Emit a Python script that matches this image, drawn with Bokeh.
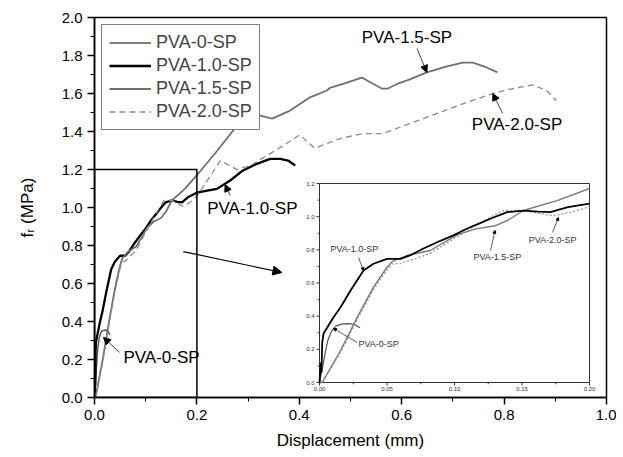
import numpy as np
from bokeh.plotting import figure
from bokeh.models import (Range1d, SingleIntervalTicker, PrintfTickFormatter, Legend,
                          LegendItem, Arrow, NormalHead)
from bokeh.core.properties import value
from bokeh.embed import file_html
from bokeh.resources import INLINE

FONT = "Liberation Sans"

# ---------------- data ----------------
x_pva0 = [0.0, 0.002, 0.004, 0.006, 0.009, 0.012, 0.016, 0.021, 0.026, 0.03]
y_pva0 = [0.0, 0.08, 0.17, 0.25, 0.31, 0.34, 0.352, 0.355, 0.35, 0.33]

x_pva10 = [0.0, 0.001, 0.0015, 0.002, 0.003, 0.0104, 0.0156, 0.023, 0.0326, 0.04, 0.05, 0.06,
           0.068, 0.077, 0.09, 0.1, 0.109, 0.118, 0.127, 0.139, 0.151, 0.162, 0.171, 0.184,
           0.2, 0.22, 0.239, 0.265, 0.29, 0.317, 0.343, 0.363, 0.378, 0.392]
y_pva10 = [0.0, 0.12, 0.06, 0.24, 0.295, 0.394, 0.454, 0.555, 0.675, 0.716, 0.746, 0.746,
           0.77, 0.808, 0.856, 0.89, 0.927, 0.958, 0.989, 1.027, 1.037, 1.03, 1.027, 1.057,
           1.078, 1.089, 1.098, 1.142, 1.195, 1.23, 1.256, 1.256, 1.247, 1.221]

x_pva15 = [0.0, 0.002, 0.0156, 0.028, 0.04, 0.05, 0.054, 0.065, 0.082, 0.102, 0.115, 0.13,
           0.14, 0.151, 0.176, 0.2, 0.24, 0.275, 0.305, 0.324, 0.347, 0.382, 0.421, 0.454,
           0.46, 0.49, 0.522, 0.545, 0.561, 0.573, 0.595, 0.616, 0.649, 0.685, 0.719, 0.739,
           0.766, 0.787]
y_pva15 = [0.0, 0.0, 0.193, 0.394, 0.575, 0.695, 0.73, 0.766, 0.796, 0.89, 0.925, 0.945,
           0.98, 1.037, 1.097, 1.17, 1.3, 1.42, 1.5, 1.484, 1.468, 1.51, 1.58, 1.616,
           1.63, 1.655, 1.684, 1.65, 1.626, 1.626, 1.655, 1.674, 1.711, 1.74, 1.763, 1.763,
           1.737, 1.711]

x_pva20 = [0.0, 0.002, 0.0156, 0.028, 0.04, 0.05, 0.054, 0.06, 0.082, 0.1, 0.112, 0.125,
           0.136, 0.151, 0.173, 0.188, 0.2, 0.22, 0.246, 0.278, 0.304, 0.337, 0.369, 0.401,
           0.43, 0.48, 0.524, 0.563, 0.616, 0.674, 0.727, 0.778, 0.817, 0.856, 0.883, 0.902]
y_pva20 = [0.0, 0.0, 0.18, 0.38, 0.56, 0.68, 0.715, 0.717, 0.778, 0.87, 0.928, 0.99,
           1.037, 1.037, 1.005, 1.03, 1.06, 1.14, 1.247, 1.2, 1.22, 1.274, 1.326, 1.382,
           1.312, 1.363, 1.389, 1.389, 1.442, 1.5, 1.553, 1.6, 1.626, 1.645, 1.616, 1.563]

series_names = ["PVA-0-SP", "PVA-1.0-SP", "PVA-1.5-SP", "PVA-2.0-SP"]

inset_x_ticks = [0.0, 0.05, 0.10, 0.15, 0.20]
inset_x_labels = ["0.00", "0.05", "0.10", "0.15", "0.20"]
inset_x_minor = [0.025, 0.075, 0.125, 0.175]
inset_y_ticks = [0.0, 0.2, 0.4, 0.6, 0.8, 1.0, 1.2]
inset_y_labels = ["0.0", "0.2", "0.4", "0.6", "0.8", "1.0", "1.2"]
inset_y_minor = [0.1, 0.3, 0.5, 0.7, 0.9, 1.1]
INSET_X_MAX = 0.2
INSET_Y_MAX = 1.2

# ---------------- layout ----------------
FRAME_W, FRAME_H = 512, 380
INS_L, INS_B, INS_W, INS_H = 225, 15, 270, 199   # inset box in frame pixels

p = figure(width=616, height=453, output_backend="svg", toolbar_location=None,
           x_range=Range1d(0, 1.0), y_range=Range1d(0, 2.0),
           min_border_left=94, min_border_right=10, min_border_top=17, min_border_bottom=56)
p.xgrid.visible = False
p.ygrid.visible = False
p.outline_line_color = "black"
p.outline_line_width = 1.5
p.outline_line_alpha = 1.0

for ax in (p.xaxis[0], p.yaxis[0]):
    ax.ticker = SingleIntervalTicker(interval=0.2, num_minor_ticks=2)
    ax.formatter = PrintfTickFormatter(format="%.1f")
    ax.major_label_text_font = FONT
    ax.major_label_text_font_size = "15px"
    ax.major_label_text_color = "black"
    ax.axis_label_text_font = FONT
    ax.axis_label_text_font_size = "17px"
    ax.axis_label_text_font_style = "normal"
    ax.axis_label_text_color = "black"
    ax.axis_line_width = 1.5
    ax.major_tick_line_width = 1.5
    ax.major_tick_in = 0
    ax.major_tick_out = 7
    ax.minor_tick_in = 0
    ax.minor_tick_out = 4
    ax.minor_tick_line_color = "black"
    ax.major_label_standoff = 5
p.xaxis.axis_label = "Displacement (mm)"
p.yaxis.axis_label = "fᵣ (MPa)"
p.xaxis.axis_label_standoff = 8
p.yaxis.axis_label_standoff = 22

# inset ranges (map inset data into its box inside the frame)
sx = INSET_X_MAX / INS_W
sy = INSET_Y_MAX / INS_H
p.extra_x_ranges = {"ix": Range1d(-INS_L * sx, (FRAME_W - INS_L) * sx)}
p.extra_y_ranges = {"iy": Range1d(-INS_B * sy, (FRAME_H - INS_B) * sy)}

# ---------------- main curves ----------------
r0 = p.line(x_pva0, y_pva0, line_color="#555555", line_width=1.5)
r10 = p.line(x_pva10, y_pva10, line_color="black", line_width=2.3)
r15 = p.line(x_pva15, y_pva15, line_color="#707070", line_width=1.8)
r20 = p.line(x_pva20, y_pva20, line_color="#8a8a8a", line_width=1.3, line_dash="6 4")

# zoom rectangle
p.quad(left=[0], right=[INSET_X_MAX], bottom=[0], top=[INSET_Y_MAX],
       fill_color=None, line_color="black", line_width=1.5)

# arrow from zoom box to inset
p.add_layout(Arrow(end=NormalHead(size=9, fill_color="black", line_color="black"),
                   x_start=0.1735, y_start=0.768, x_end=0.366, y_end=0.658,
                   line_color="black", line_width=1.2))

# main annotations
ann_text = series_names
ann_x = [0.0565, 0.220, 0.522, 0.737]
ann_y = [0.21, 0.995, 1.895, 1.437]
p.text(x=ann_x, y=ann_y, text=ann_text, text_font=value(FONT), text_font_size="17px",
       text_baseline="middle", text_align="left", text_color="black")
arr_main = [(0.049, 0.237, 0.0175, 0.316), (0.265, 1.063, 0.255, 1.121),
            (0.63, 1.837, 0.649, 1.711), (0.797, 1.495, 0.778, 1.6)]
for (xs_, ys_, xe_, ye_) in arr_main:
    p.add_layout(Arrow(end=NormalHead(size=7, fill_color="black", line_color="black"),
                       x_start=xs_, y_start=ys_, x_end=xe_, y_end=ye_,
                       line_color="#444444", line_width=1))

# ---------------- inset ----------------
def clip(xs, ys):
    xs = np.asarray(xs, dtype=float)
    ys = np.asarray(ys, dtype=float)
    m = xs <= INSET_X_MAX + 1e-9
    return xs[m], ys[m]

kw = dict(x_range_name="ix", y_range_name="iy")
p.quad(left=[0], right=[INSET_X_MAX], bottom=[0], top=[INSET_Y_MAX],
       fill_color=None, line_color="#333333", line_width=1, **kw)
xa, ya = clip(x_pva0, y_pva0)
p.line(xa, ya, line_color="#555555", line_width=1.2, **kw)
xa, ya = clip(x_pva20, y_pva20)
p.line(xa, ya, line_color="#9a9a9a", line_width=1.3, line_dash="2 2", **kw)
xa, ya = clip(x_pva15, y_pva15)
p.line(xa, ya, line_color="#7a7a7a", line_width=1.4, **kw)
xa, ya = clip(x_pva10, y_pva10)
p.line(xa, ya, line_color="black", line_width=1.8, **kw)

tlen_y = 3 * sy
tlen_x = 3 * sx
p.segment(x0=inset_x_ticks, y0=[0] * len(inset_x_ticks), x1=inset_x_ticks,
          y1=[-tlen_y] * len(inset_x_ticks), line_color="#333333", line_width=1, **kw)
p.segment(x0=inset_x_minor, y0=[0] * len(inset_x_minor), x1=inset_x_minor,
          y1=[-tlen_y * 0.6] * len(inset_x_minor), line_color="#333333", line_width=1, **kw)
p.segment(x0=[0] * len(inset_y_ticks), y0=inset_y_ticks, x1=[-tlen_x] * len(inset_y_ticks),
          y1=inset_y_ticks, line_color="#333333", line_width=1, **kw)
p.segment(x0=[0] * len(inset_y_minor), y0=inset_y_minor, x1=[-tlen_x * 0.6] * len(inset_y_minor),
          y1=inset_y_minor, line_color="#333333", line_width=1, **kw)
p.text(x=inset_x_ticks, y=[-4 * sy] * len(inset_x_ticks), text=inset_x_labels,
       text_font=value(FONT), text_font_size="6px", text_align="center", text_baseline="top",
       text_color="#333333", **kw)
p.text(x=[-5 * sx] * len(inset_y_ticks), y=inset_y_ticks, text=inset_y_labels,
       text_font=value(FONT), text_font_size="6px", text_align="right", text_baseline="middle",
       text_color="#333333", **kw)

ins_ann_x = [0.0289, 0.0081, 0.114, 0.155]
ins_ann_y = [0.235, 0.808, 0.754, 0.862]
p.text(x=ins_ann_x, y=ins_ann_y, text=series_names, text_font=value(FONT),
       text_font_size="9px", text_align="left", text_baseline="middle",
       text_color="#333333", **kw)
arr_ins = [(0.028, 0.241, 0.0104, 0.326), (0.0289, 0.754, 0.0326, 0.675),
           (0.1267, 0.796, 0.130, 0.917), (0.1726, 0.905, 0.177, 0.995)]
for (xs_, ys_, xe_, ye_) in arr_ins:
    p.add_layout(Arrow(end=NormalHead(size=3, fill_color="black", line_color="black"),
                       x_start=xs_, y_start=ys_, x_end=xe_, y_end=ye_,
                       line_color="#333333", line_width=0.8, **kw))

# ---------------- legend ----------------
legend = Legend(items=[LegendItem(label=n, renderers=[r]) for n, r in
                       zip(series_names, [r0, r10, r15, r20])],
                location="top_left", margin=7, padding=7, spacing=2,
                glyph_width=42, glyph_height=21, label_height=21,
                label_standoff=5, label_text_font=FONT, label_text_font_size="18px",
                border_line_color="black", border_line_width=1,
                background_fill_color="white", background_fill_alpha=1.0)
p.add_layout(legend)

open("out.html", "w").write(file_html(p, INLINE))
